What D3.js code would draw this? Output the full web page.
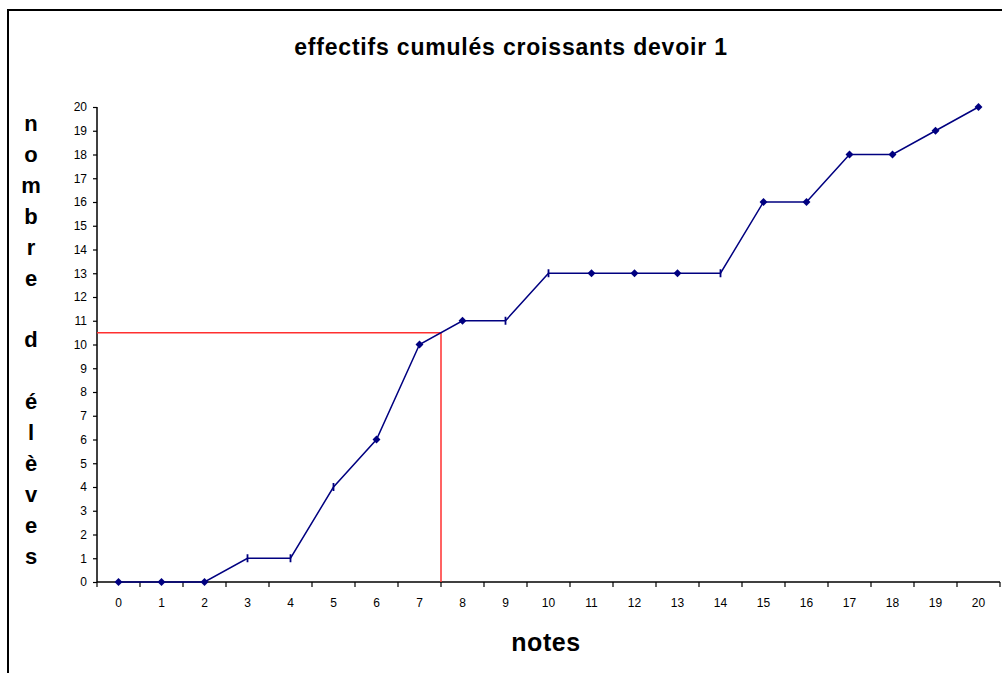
<!DOCTYPE html>
<html><head><meta charset="utf-8">
<script src="https://cdn.jsdelivr.net/npm/d3@7"></script>
<style>body{margin:0;background:#fff}svg{display:block}text{font-family:"Liberation Sans",Arial,sans-serif}</style>
</head><body>
<script>
const notes = [0,1,2,3,4,5,6,7,8,9,10,11,12,13,14,15,16,17,18,19,20];
const cumulative = [0,0,0,1,1,4,6,10,11,11,13,13,13,13,13,16,16,18,18,19,20];
const barMarkerNotes = [3,4,5,9,10,14];
const yTicks = d3.range(0,21);
const medianNote = 7.5, medianCount = 10.5;
const title = "effectifs cumulés croissants devoir 1";
const xTitle = "notes";
const yTitle = "nombre d élèves";

(function(){
const W=1002,H=673;
const svg=d3.select("body").append("svg").attr("width",W).attr("height",H);
svg.append("rect").attr("x",8).attr("y",10).attr("width",1100).attr("height",800)
  .attr("fill","none").attr("stroke","#000").attr("stroke-width",2);

const pL=97, pR=1000, pT=107, pB=582;
const x=d3.scaleBand().domain(notes).range([pL,pR]).paddingInner(0).paddingOuter(0);
const xc=d=>x(d)+x.bandwidth()/2;
const xl=d3.scaleLinear().domain([0,20]).range([xc(0),xc(20)]);
const y=d3.scaleLinear().domain([0,20]).range([pB,pT]);

// y axis
const ya=svg.append("g").attr("transform",`translate(${pL},0)`)
  .call(d3.axisLeft(y).tickValues(yTicks).tickSize(4).tickPadding(6).tickFormat(d3.format("d")));
ya.select(".domain").attr("stroke","#000").attr("stroke-width",1.5).attr("d",`M0,${pT}V${pB}`);
ya.selectAll(".tick line").attr("stroke","#000").attr("stroke-width",1.2);
ya.selectAll(".tick text").attr("font-size",12).attr("fill","#000").style("font-family","Liberation Sans, Arial");

// x axis
const xa=svg.append("g").attr("transform",`translate(0,${pB})`)
  .call(d3.axisBottom(x).tickSize(0).tickPadding(16));
xa.select(".domain").attr("stroke","#000").attr("stroke-width",1.5).attr("d",`M${pL},0H${pR}`);
xa.selectAll(".tick text").attr("font-size",12).attr("fill","#000").style("font-family","Liberation Sans, Arial");
xa.selectAll(".tick line").remove();
const bounds=notes.map(d=>x(d)).concat([pR]);
svg.append("g").selectAll("line").data(bounds).join("line")
  .attr("x1",d=>d).attr("x2",d=>d).attr("y1",pB).attr("y2",pB+5)
  .attr("stroke","#000").attr("stroke-width",1.2);

// red reading lines
svg.append("path").attr("fill","none").attr("stroke","#ff3030").attr("stroke-width",1.5)
  .attr("d",`M${pL},${y(medianCount)}H${xl(medianNote)}V${pB}`);

// series
const pts=notes.map((n,i)=>({n,v:cumulative[i]}));
svg.append("path").datum(pts).attr("fill","none").attr("stroke","#000080").attr("stroke-width",1.5)
  .attr("d",d3.line().x(d=>xc(d.n)).y(d=>y(d.v)));
const diam=d3.symbol().type(d3.symbolDiamond2).size(40);
svg.append("g").selectAll("path").data(pts.filter(p=>!barMarkerNotes.includes(p.n))).join("path")
  .attr("d",diam).attr("transform",d=>`translate(${xc(d.n)},${y(d.v)})`).attr("fill","#000080");
svg.append("g").selectAll("line").data(pts.filter(p=>barMarkerNotes.includes(p.n))).join("line")
  .attr("x1",d=>xc(d.n)).attr("x2",d=>xc(d.n)).attr("y1",d=>y(d.v)-4).attr("y2",d=>y(d.v)+4)
  .attr("stroke","#000080").attr("stroke-width",1.8);

// titles
svg.append("text").attr("x",511).attr("y",55).attr("text-anchor","middle")
  .attr("font-size",23).attr("letter-spacing",0.8).attr("font-weight","bold").text(title);
svg.append("text").attr("x",546).attr("y",651).attr("text-anchor","middle")
  .attr("font-size",25).attr("letter-spacing",0.6).attr("font-weight","bold").text(xTitle);
const yt=svg.append("text").attr("text-anchor","middle").attr("font-size",22).attr("font-weight","bold");
Array.from(yTitle).forEach((ch,i)=>{
  yt.append("tspan").attr("x",31).attr("y",131+i*30.9).text(ch===" "?"\u00a0":ch);
});
})();
</script>
</body></html>
